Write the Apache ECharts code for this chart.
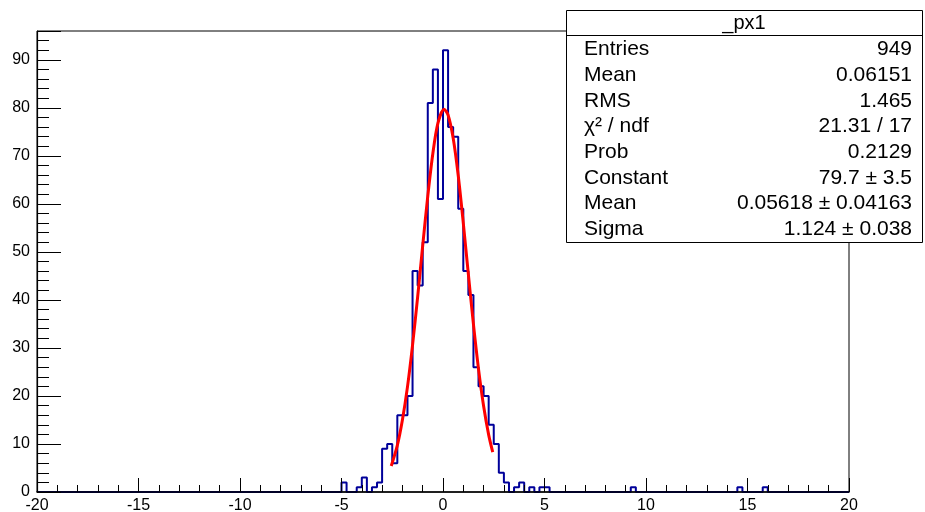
<!DOCTYPE html>
<html><head><meta charset="utf-8">
<script src="https://cdn.jsdelivr.net/npm/echarts@6/dist/echarts.min.js"></script>
<style>html,body{margin:0;padding:0;background:#fff}#c{width:925px;height:512px}</style>
</head><body><div id="c"></div>
<script>
// histogram: left edges of non-empty bins (bin width 0.25, range -20..20) and their counts
const binLeft = [-5, -4.25, -4, -3.5, -3.25, -3, -2.75, -2.5, -2.25, -2, -1.75, -1.5, -1.25, -1, -0.75, -0.5, -0.25, 0,
  0.25, 0.5, 0.75, 1, 1.25, 1.5, 1.75, 2, 2.25, 2.5, 2.75, 3, 3.5, 3.75, 4.25, 4.75, 5, 9.25, 14.5, 15.75];
const binCount = [2, 1, 3, 1, 2, 9, 10, 6, 16, 16, 20, 46, 43, 52, 81, 88, 61, 92,
  76, 74, 59, 46, 41, 26, 22, 20, 14, 10, 4, 2, 1, 2, 1, 1, 1, 1, 1, 1];
// gaussian fit curve
const fitX = [-2.55, -2.25, -2.0, -1.75, -1.5, -1.25, -1.0, -0.75, -0.5, -0.25, 0.05, 0.25, 0.5, 0.75, 1.0, 1.25, 1.5, 1.75, 2.0, 2.25, 2.45];
const fitY = [5.4, 9.7, 15.0, 21.9, 30.6, 40.6, 51.3, 61.6, 70.5, 76.8, 79.7, 78.5, 73.7, 65.9, 56.0, 45.3, 34.9, 25.6, 17.9, 11.9, 8.3];
const xTicks = [-20, -15, -10, -5, 0, 5, 10, 15, 20];
const yTicks = [0, 10, 20, 30, 40, 50, 60, 70, 80, 90];
const statTitle = '_px1';
const statLabels = ['Entries', 'Mean', 'RMS', 'χ² / ndf', 'Prob', 'Constant', 'Mean', 'Sigma'];
const statValues = ['949', '0.06151', '1.465', '21.31 / 17', '0.2129', '79.7 ± 3.5', '0.05618 ± 0.04163', '1.124 ± 0.038'];

const XMIN = xTicks[0], XMAX = xTicks[xTicks.length - 1], BW = 0.25;
const nb = Math.round((XMAX - XMIN) / BW);
const full = new Array(nb).fill(0);
binLeft.forEach((e, i) => { full[Math.round((e - XMIN) / BW)] = binCount[i]; });
const histData = [];
for (let i = 0; i < nb; i++) histData.push([XMIN + i * BW, full[i]]);
histData.push([XMAX, 0]);
const fitData = fitX.map((x, i) => [x, fitY[i]]);

const FONT = '"Liberation Sans", Arial, sans-serif';
const chart = echarts.init(document.getElementById('c'), null, {renderer: 'canvas'});
const boxX = 566, boxY = 10, boxW = 356, boxH = 232, rowH = 25.7;
const graphics = [
  {type: 'rect', z: 100, shape: {x: boxX + 0.5, y: boxY + 0.5, width: boxW, height: boxH}, style: {fill: '#fff', stroke: '#000', lineWidth: 1}},
  {type: 'line', z: 101, shape: {x1: boxX, y1: 35.5, x2: boxX + boxW, y2: 35.5}, style: {stroke: '#000', lineWidth: 1}},
  {type: 'text', z: 102, x: boxX + boxW / 2, y: 23.5, style: {text: statTitle, font: '20px ' + FONT, fill: '#000', textAlign: 'center', textVerticalAlign: 'middle'}}
];
statLabels.forEach((l, i) => {
  const y = 49.5 + i * rowH;
  graphics.push({type: 'text', z: 102, x: 584, y: y, style: {text: l, font: '21px ' + FONT, fill: '#000', textAlign: 'left', textVerticalAlign: 'middle'}});
  graphics.push({type: 'text', z: 102, x: 912, y: y, style: {text: statValues[i], font: '21px ' + FONT, fill: '#000', textAlign: 'right', textVerticalAlign: 'middle'}});
});

chart.setOption({
  animation: false,
  backgroundColor: '#fff',
  grid: {left: 37, right: 76, top: 31, bottom: 20, containLabel: false, outerBoundsMode: 'none',
    show: true, borderColor: '#000', borderWidth: 1, backgroundColor: 'transparent'},
  xAxis: {
    type: 'value', min: XMIN, max: XMAX, interval: 5, z: 5,
    axisLine: {onZero: false, lineStyle: {color: '#000', width: 1.6}},
    axisTick: {inside: true, length: 14, lineStyle: {color: '#000'}},
    minorTick: {show: true, splitNumber: 5, length: 7, lineStyle: {color: '#000'}},
    splitLine: {show: false},
    axisLabel: {color: '#000', fontSize: 16, fontFamily: FONT, margin: 6}
  },
  yAxis: [{
    type: 'value', min: 0, max: 96, interval: 2, z: 5,
    axisLine: {show: true, onZero: false, lineStyle: {color: '#000', width: 1.2}},
    axisTick: {show: true, inside: true, length: 12, lineStyle: {color: '#000'}},
    splitLine: {show: false},
    axisLabel: {color: '#000', fontSize: 16, fontFamily: FONT, margin: 7, showMaxLabel: false,
      formatter: v => (yTicks.indexOf(v) >= 0 ? String(v) : '')}
  }, {
    type: 'value', min: 0, max: 96, interval: 10, z: 5, position: 'left',
    axisLine: {show: false, onZero: false},
    axisTick: {show: true, inside: true, length: 24, lineStyle: {color: '#000'}},
    splitLine: {show: false},
    axisLabel: {show: false}
  }],
  series: [{
    type: 'line', data: histData, step: 'end', symbol: 'none', z: 3, yAxisIndex: 0,
    lineStyle: {color: '#00009a', width: 2}
  }, {
    type: 'line', data: fitData, smooth: 0.3, symbol: 'none', z: 4, yAxisIndex: 0,
    lineStyle: {color: '#ff0000', width: 3}
  }],
  graphic: graphics
});
</script></body></html>
